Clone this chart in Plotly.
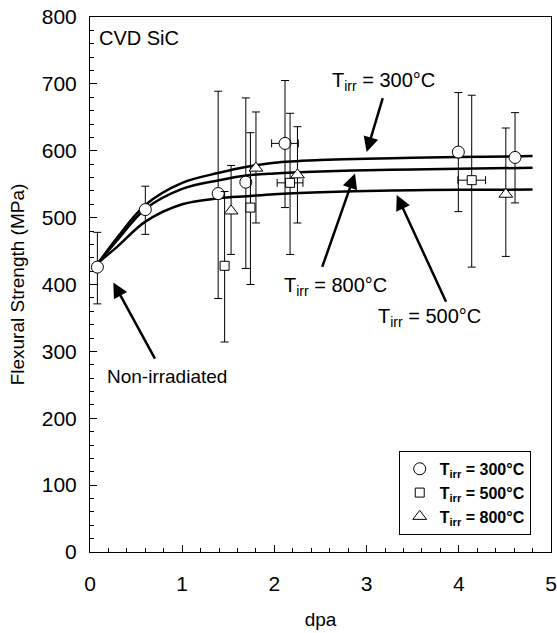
import plotly.graph_objects as go

# ---- data ----
# 300 C (circles)
x300 = [0.08, 0.60, 1.39, 1.69, 2.115, 3.995, 4.61]
y300 = [426, 512, 536, 553, 611, 598, 590]
e300_up = [52, 35, 153, 126, 94, 89, 67]
e300_dn = [55, 37, 157, 129, 96, 89, 68]
ex300 = [None, None, None, None, 0.145, None, None]

# 500 C (squares)
x500 = [1.46, 1.74, 2.17, 4.14]
y500 = [428, 515, 552, 556]
e500_up = [111, 112, 104, 127]
e500_dn = [114, 115, 107, 130]
ex500 = [None, None, 0.14, 0.15]

# 800 C (triangles)
x800 = [1.53, 1.80, 2.25, 4.51]
y800 = [510, 574, 564, 535]
e800_up = [68, 84, 72, 99]
e800_dn = [65, 82, 72, 93]

# fitted curves
cx = [0.1, 0.3, 0.6, 1.0, 1.4, 1.7, 2.0, 2.5, 3.0, 3.5, 4.0, 4.8]
c300 = [434, 471, 519, 552, 567, 576, 582, 586, 588, 589.5, 590.5, 592]
c800 = [434, 467, 513, 543, 556, 563, 566, 569, 571, 572, 573, 574.5]
c500 = [434, 457, 494, 520, 529, 532, 535, 538, 540, 541, 541.5, 542]

FONT = "Arial, Liberation Sans, sans-serif"

fig = go.Figure()

for cy in (c300, c800, c500):
    fig.add_trace(go.Scatter(x=cx, y=cy, mode="lines", line=dict(color="black", width=2.5, shape="spline"),
                             showlegend=False, hoverinfo="skip"))

def ebar(up, dn):
    return dict(type="data", symmetric=False, array=up, arrayminus=dn,
                color="black", thickness=1, width=4)

def exbar(ex):
    return dict(type="data", symmetric=True, array=ex, color="black", thickness=1, width=4)

fig.add_trace(go.Scatter(x=x300, y=y300, mode="markers", name="T<sub>irr</sub> = 300°C",
                         marker=dict(symbol="circle", size=12, color="white", line=dict(color="black", width=1)),
                         error_y=ebar(e300_up, e300_dn), error_x=exbar(ex300)))
fig.add_trace(go.Scatter(x=x500, y=y500, mode="markers", name="T<sub>irr</sub> = 500°C",
                         marker=dict(symbol="square", size=9, color="white", line=dict(color="black", width=1)),
                         error_y=ebar(e500_up, e500_dn), error_x=exbar(ex500)))
fig.add_trace(go.Scatter(x=x800, y=y800, mode="markers", name="T<sub>irr</sub> = 800°C",
                         marker=dict(symbol="triangle-up", size=12, color="white", line=dict(color="black", width=1)),
                         error_y=ebar(e800_up, e800_dn)))

# arrows (tail -> head), data coordinates
arrows = [
    ((3.18, 681), (3.00, 598)),
    ((2.513, 424), (2.874, 566)),
    ((3.869, 372), (3.327, 534)),
    ((0.713, 287), (0.253, 403)),
]
for (tx, ty), (hx, hy) in arrows:
    fig.add_annotation(x=hx, y=hy, ax=tx, ay=ty, xref="x", yref="y", axref="x", ayref="y",
                       text="", showarrow=True, arrowhead=2, arrowsize=1.2, arrowwidth=2.5,
                       arrowcolor="black", standoff=0, startstandoff=0)

labels = [
    (3.178, 703, "T<sub>irr</sub> = 300°C", 20),
    (2.667, 397, "T<sub>irr</sub> = 800°C", 20),
    (3.677, 350, "T<sub>irr</sub> = 500°C", 20),
    (0.835, 262, "Non-irradiated", 19),
]
for x, y, t, s in labels:
    fig.add_annotation(x=x, y=y, xref="x", yref="y", text=t, showarrow=False,
                       font=dict(family=FONT, size=s, color="black"))

fig.add_annotation(x=0.015, y=0.985, xref="paper", yref="paper", xanchor="left", yanchor="top",
                   text="CVD SiC", showarrow=False, font=dict(family=FONT, size=20, color="black"))

fig.update_layout(
    width=557, height=633,
    margin=dict(l=90, r=6, t=17, b=81),
    paper_bgcolor="white", plot_bgcolor="white",
    font=dict(family=FONT, color="black"),
    showlegend=True,
    legend=dict(x=0.956, y=0.032, xanchor="right", yanchor="bottom",
                bordercolor="black", borderwidth=1, bgcolor="white",
                font=dict(family=FONT, size=16, color="black", weight="bold"),
                tracegroupgap=0),
)
fig.update_xaxes(range=[0, 5], tickvals=[0, 1, 2, 3, 4, 5], ticks="inside", ticklen=7, tickwidth=1,
                 tickcolor="black", showline=True, linecolor="black", linewidth=1, mirror=True,
                 showgrid=False, zeroline=False, tickfont=dict(size=21, family=FONT),
                 ticklabelstandoff=13, automargin=False, ticklabeloverflow="allow",
                 minor=dict(dtick=0.2, ticks="inside", ticklen=4, tickcolor="black", showgrid=False),
                 title=dict(text="dpa", font=dict(size=19, family=FONT), standoff=18))
fig.update_yaxes(range=[0, 800], tickvals=list(range(0, 801, 100)), ticks="inside", ticklen=7, tickwidth=1,
                 tickcolor="black", showline=True, linecolor="black", linewidth=1, mirror=True,
                 showgrid=False, zeroline=False, tickfont=dict(size=21, family=FONT),
                 ticklabelstandoff=8, automargin=False, ticklabeloverflow="allow",
                 minor=dict(dtick=20, ticks="inside", ticklen=4, tickcolor="black", showgrid=False),
                 title=dict(text="Flexural Strength (MPa)", font=dict(size=19, family=FONT), standoff=12))

fig.write_html("out.html", config={"displayModeBar": False},
               post_script="document.body.style.margin='0';document.body.style.overflow='hidden';")
